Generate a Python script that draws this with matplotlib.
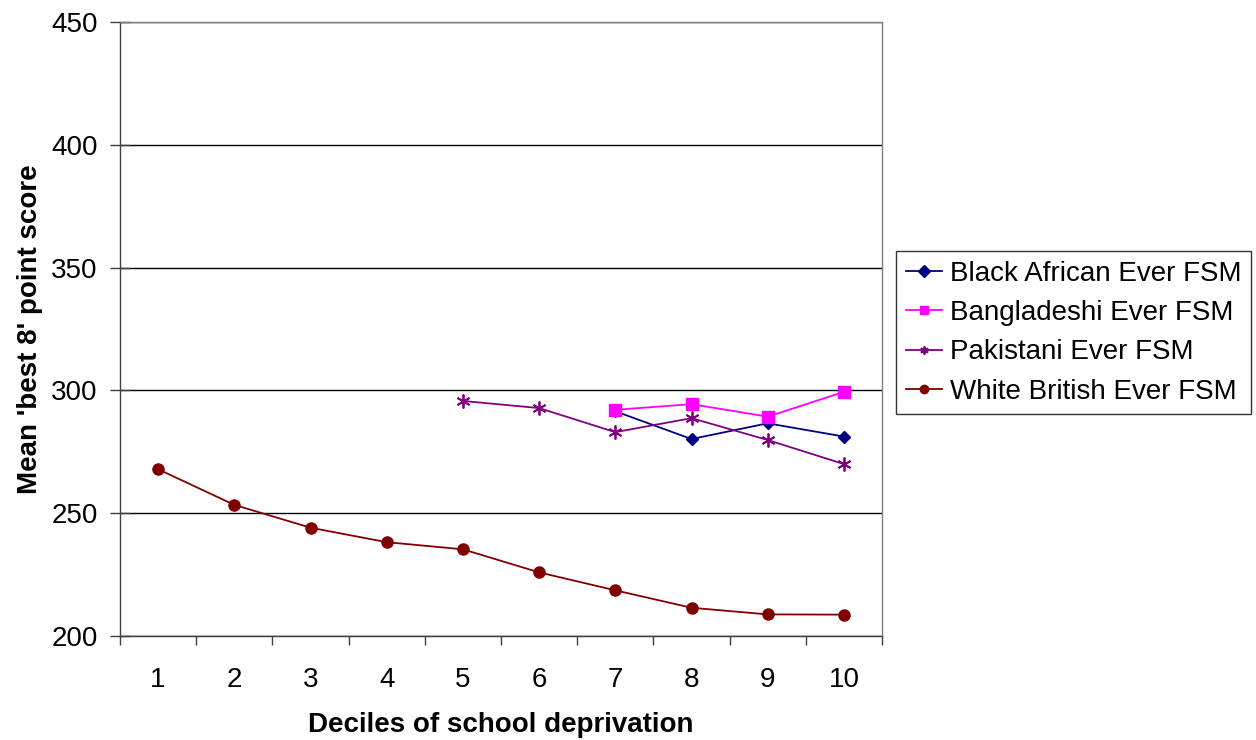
import matplotlib
matplotlib.use("Agg")
import matplotlib.pyplot as plt
from matplotlib.ticker import FixedLocator, NullFormatter

plt.rcParams['font.family'] = ['Liberation Sans', 'DejaVu Sans']

deciles = [1, 2, 3, 4, 5, 6, 7, 8, 9, 10]
tick_labels = ["1", "2", "3", "4", "5", "6", "7", "8", "9", "10"]

black_african_x = [7, 8, 9, 10]
black_african = [291.5, 280.2, 286.6, 281.2]
bangladeshi_x = [7, 8, 9, 10]
bangladeshi = [292.1, 294.4, 289.3, 299.4]
pakistani_x = [5, 6, 7, 8, 9, 10]
pakistani = [295.7, 292.8, 283.0, 288.7, 279.8, 270.0]
white_british = [267.9, 253.4, 244.1, 238.2, 235.3, 225.9, 218.6, 211.5, 208.8, 208.7]

fig = plt.figure(figsize=(12.56, 7.40), dpi=100)
ax = fig.add_axes([120/1256, 1 - 636/740, (882-120)/1256, (636-22)/740])

ax.plot(black_african_x, black_african, color='#000080', marker='D', markersize=6, lw=1.3,
        label='Black African Ever FSM')
ax.plot(bangladeshi_x, bangladeshi, color='#FF00FF', marker='s', markersize=8, lw=1.3,
        label='Bangladeshi Ever FSM')
ax.plot(pakistani_x, pakistani, color='#800080', marker=(6, 2, 0), markersize=10, mew=1.3, lw=1.3,
        label='Pakistani Ever FSM')
ax.plot(deciles, white_british, color='#800000', marker='o', markersize=8, lw=1.3,
        label='White British Ever FSM')

ax.set_xlim(0.5, 10.5)
ax.set_ylim(200, 450)
ax.set_yticks([200, 250, 300, 350, 400, 450])
ax.yaxis.grid(True, color='black', lw=1)
ax.set_axisbelow(True)

ax.set_xticks(deciles)
ax.set_xticklabels(tick_labels)
ax.xaxis.set_minor_locator(FixedLocator([x + 0.5 for x in range(0, 11)]))
ax.xaxis.set_minor_formatter(NullFormatter())
ax.tick_params(axis='x', which='major', length=0, pad=22, labelsize=20)
ax.tick_params(axis='x', which='minor', length=6.5, width=1, direction='out', color='#404040')
ax.tick_params(axis='y', which='major', length=14, width=1, direction='inout', labelsize=20,
               pad=9, color='#404040')

for side in ['left', 'bottom']:
    ax.spines[side].set_color('#404040')
    ax.spines[side].set_linewidth(1)
for side in ['top', 'right']:
    ax.spines[side].set_color('#808080')
    ax.spines[side].set_linewidth(1)

ax.set_xlabel('Deciles of school deprivation', fontsize=20, fontweight='bold', labelpad=14)
ax.set_ylabel("Mean 'best 8' point score", fontsize=20, fontweight='bold', labelpad=6)

leg = ax.legend(loc='upper left', bbox_to_anchor=(896/1256, 1 - 251/740), bbox_transform=fig.transFigure,
                fontsize=20, frameon=True, fancybox=False, edgecolor='black', borderpad=0.35,
                handlelength=1.3, handletextpad=0.3, labelspacing=0.48, borderaxespad=0)
leg.get_frame().set_linewidth(1)
for h in leg.legend_handles:
    h.set_markersize(6)

fig.savefig('out.png', dpi=100)
